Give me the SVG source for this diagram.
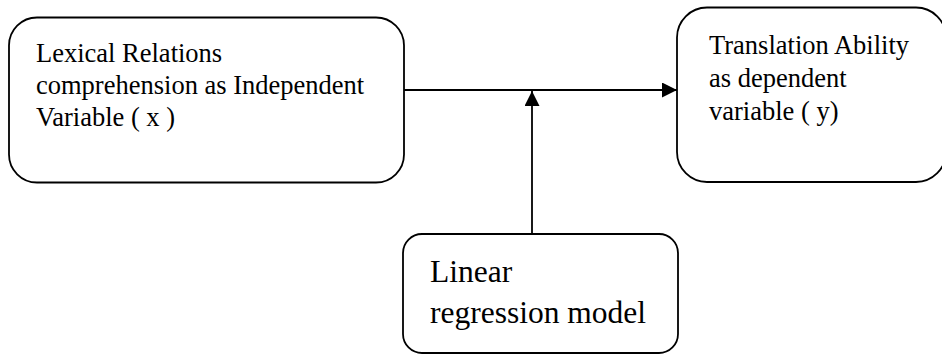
<svg xmlns="http://www.w3.org/2000/svg" width="942" height="354" viewBox="0 0 942 354">
<style>
.box{fill:#fff;stroke:#000;stroke-width:1.8}
.t{font-family:"Liberation Serif","Times New Roman",serif;fill:#000;font-size:26.5px}
.tb{font-family:"Liberation Serif","Times New Roman",serif;fill:#000;font-size:31.5px}
.c{stroke:#000;stroke-width:1.8;fill:none}
</style>
<defs>
<marker id="ah" markerWidth="15" markerHeight="15" refX="15" refY="7.5" orient="auto" markerUnits="userSpaceOnUse">
<path d="M0,0 L15,7.5 L0,15 Z" fill="#000"/>
</marker>
</defs>
<rect width="942" height="354" fill="#fff"/>
<g id="node-independent">
<rect class="box" x="9" y="17.5" width="395" height="165" rx="28" ry="28"/>
<text class="t" x="36" y="61.5">Lexical Relations</text>
<text class="t" x="36" y="93.5">comprehension as Independent</text>
<text class="t" x="36" y="125.5">Variable ( x )</text>
</g>
<g id="node-dependent">
<rect class="box" x="677" y="7.5" width="269" height="174.5" rx="30" ry="30"/>
<text class="t" x="709" y="53.5">Translation Ability</text>
<text class="t" x="709" y="86.5">as dependent</text>
<text class="t" x="709" y="119.5">variable ( y)</text>
</g>
<g id="node-model">
<rect class="box" x="403" y="234" width="275" height="119" rx="19" ry="19"/>
<text class="tb" x="430" y="282">Linear</text>
<text class="tb" x="430" y="323">regression model</text>
</g>
<g id="connectors">
<line class="c" x1="404" y1="90" x2="677" y2="90" marker-end="url(#ah)"/>
<line class="c" x1="532" y1="234" x2="532" y2="91" marker-end="url(#ah)"/>
</g>
</svg>
